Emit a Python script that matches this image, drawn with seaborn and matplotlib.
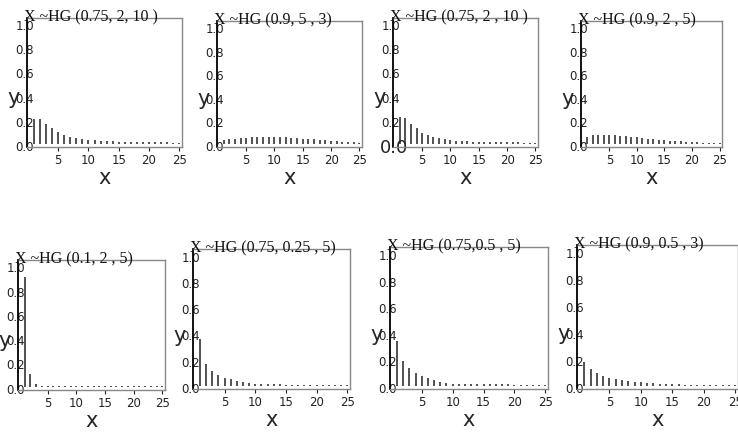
"""
HG distributions, 8 small stem panels
"""
import numpy as np
import matplotlib
matplotlib.use('Agg')
import matplotlib.pyplot as plt
import matplotlib.transforms as mtransforms
import seaborn as sns

x = list(range(1, 26))

titles = ['X ~HG (0.75, 2, 10 )', 'X ~HG (0.9, 5 , 3)', 'X ~HG (0.75, 2 , 10 )', 'X ~HG (0.9, 2 , 5)',
          'X ~HG (0.1, 2 , 5)', 'X ~HG (0.75, 0.25 , 5)', 'X ~HG (0.75,0.5 , 5)', 'X ~HG (0.9, 0.5 , 3)']

# probabilities, x = 1..25
p1 = [0.22, 0.22, 0.18, 0.145, 0.115, 0.09, 0.075, 0.065, 0.055, 0.05, 0.045, 0.04, 0.038,
      0.036, 0.034, 0.033, 0.032, 0.031, 0.03, 0.03, 0.029, 0.028, 0.028, 0.027, 0.027]
p2 = [0.05, 0.055, 0.06, 0.065, 0.07, 0.072, 0.075, 0.077, 0.077, 0.076, 0.074, 0.072, 0.07,
      0.066, 0.062, 0.058, 0.055, 0.05, 0.046, 0.042, 0.04, 0.036, 0.033, 0.03, 0.028]
p3 = [0.24, 0.23, 0.18, 0.145, 0.11, 0.09, 0.075, 0.067, 0.055, 0.047, 0.042, 0.039, 0.036,
      0.034, 0.033, 0.032, 0.031, 0.03, 0.03, 0.029, 0.028, 0.028, 0.027, 0.027, 0.026]
p4 = [0.075, 0.09, 0.093, 0.094, 0.093, 0.09, 0.086, 0.08, 0.076, 0.071, 0.066, 0.061, 0.057,
      0.052, 0.048, 0.045, 0.041, 0.038, 0.035, 0.032, 0.03, 0.028, 0.026, 0.025, 0.024]
p5 = [0.92, 0.125, 0.04, 0.026, 0.025, 0.025, 0.025, 0.025, 0.025, 0.025, 0.025, 0.025, 0.025,
      0.025, 0.025, 0.025, 0.025, 0.025, 0.025, 0.025, 0.025, 0.025, 0.025, 0.025, 0.025]
p6 = [0.37, 0.18, 0.127, 0.1, 0.076, 0.063, 0.05, 0.04, 0.033, 0.028, 0.027, 0.026, 0.025,
      0.025, 0.024, 0.024, 0.024, 0.023, 0.023, 0.023, 0.023, 0.023, 0.022, 0.022, 0.022]
p7 = [0.35, 0.2, 0.146, 0.11, 0.087, 0.07, 0.056, 0.044, 0.036, 0.031, 0.029, 0.028, 0.027,
      0.026, 0.025, 0.025, 0.024, 0.024, 0.024, 0.023, 0.023, 0.023, 0.023, 0.022, 0.022]
p8 = [0.19, 0.14, 0.107, 0.088, 0.075, 0.067, 0.059, 0.05, 0.045, 0.04, 0.036, 0.032, 0.03,
      0.027, 0.025, 0.024, 0.023, 0.022, 0.021, 0.02, 0.02, 0.019, 0.019, 0.018, 0.018]
probs = [p1, p2, p3, p4, p5, p6, p7, p8]

yticks = [0.0, 0.2, 0.4, 0.6, 0.8, 1.0]
xticks = [5, 10, 15, 20, 25]

# axes boxes in pixels: left, right, top, bottom
boxes = [(27, 182, 18, 147), (217, 362, 21, 147), (393, 538, 18, 147), (581, 722, 21, 147),
         (18, 165, 260, 390), (193, 350, 249, 389), (390, 548, 247, 389), (577, 738, 245, 389)]

sns.set_theme(style='white')
plt.rcParams['font.family'] = ['DejaVu Sans']

W, H = 738, 442
fig = plt.figure(figsize=(W / 100, H / 100), dpi=100)

base = 0.015
for i, (l, r, t, b) in enumerate(boxes):
    ax = fig.add_axes([l / W, 1 - b / H, (r - l) / W, (b - t) / H])
    ax.vlines(x, base, probs[i], color='#222222', lw=1.1)
    ax.set_xlim(-0.15, 25.45)
    ax.set_ylim(-0.01, 1.06)
    ax.set_xticks(xticks)
    ax.set_yticks(yticks)
    ax.set_yticklabels(['%.1f' % v for v in yticks])
    ax.tick_params(axis='y', length=0, pad=-5, labelsize=8.5, colors='#222222')
    ax.tick_params(axis='x', length=3, width=0.8, pad=2, labelsize=8.5, colors='#222222',
                   bottom=True)
    if i == 2:
        lab = ax.get_yticklabels()[0]
        lab.set_fontsize(13)
        lab.set_transform(lab.get_transform() +
                          mtransforms.ScaledTranslation(6 / 72, 0, fig.dpi_scale_trans))
    for side in ['top', 'right', 'bottom']:
        ax.spines[side].set_color('#888888')
        ax.spines[side].set_linewidth(1.0)
    ax.spines['left'].set_color('black')
    ax.spines['left'].set_linewidth(1.3)
    hpx = b - t
    ax.set_xlabel('x', fontsize=15)
    ax.xaxis.set_label_coords(0.5, -21 / hpx)
    ax.set_ylabel('y', fontsize=15, rotation=0, va='center', ha='left')
    ax.yaxis.set_label_coords(-20 / (r - l), 0.38)
    ax.annotate(titles[i], xy=(0, 1), xycoords='axes fraction', xytext=(-2, -2.5),
                textcoords='offset points', va='baseline', ha='left',
                fontsize=11.5, family='Liberation Serif', color='#111111')

fig.savefig('out.png', dpi=100)
